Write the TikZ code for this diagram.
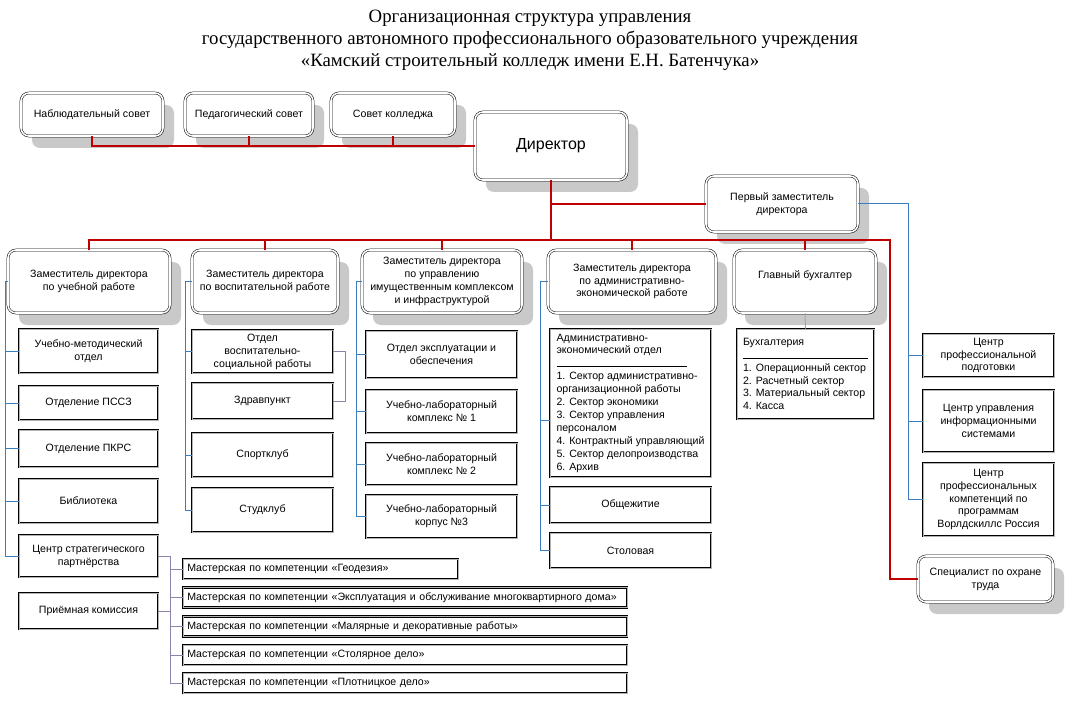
\documentclass[tikz,border=0pt]{standalone}
\usepackage{fontspec}
\setmainfont{Liberation Serif}
\newfontfamily\orgsans{Liberation Sans}
\usetikzlibrary{shadows}

\definecolor{linkred}{HTML}{C00000}
\definecolor{linkblue}{HTML}{3A7EC0}
\definecolor{linkviolet}{HTML}{8E82AC}
\definecolor{shadowgray}{HTML}{C9C9C9}

\def\boxfont{\orgsans\fontsize{10.6}{12.9}\selectfont}
\def\headfont{\orgsans\fontsize{16}{18}\selectfont}
\def\listrule#1{\rule{#1}{0.5pt}}

\tikzset{
  head/.style={draw, line width=0.5pt, double, double distance=1.6pt,
    rounded corners=8pt, fill=white, align=center, font=\boxfont,
    drop shadow={shadow xshift=11pt, shadow yshift=-12pt, fill=shadowgray, opacity=1}},
  unit/.style={draw=black, line width=0.6pt, double=gray!60, double distance=0.9pt,
    fill=white, align=center, font=\boxfont},
  redlink/.style={draw=linkred, line width=2pt},
  bluelink/.style={draw=linkblue, line width=1pt},
  violetlink/.style={draw=linkviolet, line width=1pt},
  graylink/.style={draw=gray!70, line width=1pt},
}

\begin{document}
\begin{tikzpicture}[x=1pt,y=-1pt]
\useasboundingbox (0,0) rectangle (1067,708);

\node[align=center, font=\fontsize{18.8}{22}\selectfont] (title) at (530,40)
  {Организационная структура управления\\
   государственного автономного профессионального образовательного учреждения\\
   «Камский строительный колледж имени Е.Н. Батенчука»};

\node[head, minimum width=142pt, minimum height=43pt] (nabl) at (92,114.5) {Наблюдательный совет};
\node[head, minimum width=128pt, minimum height=43pt] (ped) at (249,114.5) {Педагогический совет};
\node[head, minimum width=124pt, minimum height=43pt] (sovet) at (393,114.5) {Совет колледжа};
\node[head, minimum width=152pt, minimum height=68pt, font=\headfont] (director) at (551,146) {Директор};
\node[head, minimum width=152pt, minimum height=56pt] (first) at (782,204) {Первый заместитель\\директора};

\node[head, minimum width=162pt, minimum height=63pt] (dep1) at (89,281.5) {Заместитель директора\\по учебной работе};
\node[head, minimum width=146pt, minimum height=63pt] (dep2) at (265,281.5) {Заместитель директора\\по воспитательной работе};
\node[head, minimum width=160pt, minimum height=63pt] (dep3) at (442,281.5) {Заместитель директора\\по управлению\\имущественным комплексом\\и инфраструктурой};
\node[head, minimum width=168pt, minimum height=63pt] (dep4) at (632,281.5) {Заместитель директора\\по административно-\\экономической работе};
\node[head, minimum width=142pt, minimum height=63pt] (buh) at (805,281.5) {Главный бухгалтер\\\mbox{}};

\node[unit, minimum width=139pt, minimum height=44pt] (umo) at (88.5,351) {Учебно-методический\\отдел};
\node[unit, minimum width=139pt, minimum height=34pt] (pssz) at (88.5,403) {Отделение ПССЗ};
\node[unit, minimum width=139pt, minimum height=37pt] (pkrs) at (88.5,448.5) {Отделение ПКРС};
\node[unit, minimum width=139pt, minimum height=44pt] (bib) at (88.5,501) {Библиотека};
\node[unit, minimum width=139pt, minimum height=42pt] (csp) at (88.5,556) {Центр стратегического\\партнёрства};
\node[unit, minimum width=139pt, minimum height=36pt] (prk) at (88.5,611) {Приёмная комиссия};

\node[unit, minimum width=141pt, minimum height=43pt] (ovr) at (262.5,351.5) {Отдел\\воспитательно-\\социальной работы};
\node[unit, minimum width=141pt, minimum height=36pt] (zdr) at (262.5,401) {Здравпункт};
\node[unit, minimum width=141pt, minimum height=44pt] (sport) at (262.5,455) {Спортклуб};
\node[unit, minimum width=141pt, minimum height=44pt] (stud) at (262.5,510) {Студклуб};

\node[unit, minimum width=151pt, minimum height=47pt] (oeo) at (441.5,354.5) {Отдел эксплуатации и\\обеспечения};
\node[unit, minimum width=151pt, minimum height=43pt] (ulk1) at (441.5,411.5) {Учебно-лабораторный\\комплекс №~1};
\node[unit, minimum width=151pt, minimum height=42pt] (ulk2) at (441.5,464) {Учебно-лабораторный\\комплекс №~2};
\node[unit, minimum width=151pt, minimum height=43pt] (ulk3) at (441.5,516.5) {Учебно-лабораторный\\корпус №3};

\node[unit, minimum width=161pt, minimum height=148pt, align=left] (aeo) at (630.5,403)
  {Административно-\\экономический отдел\\\listrule{130pt}\\1. Сектор административно-\\организационной работы\\2. Сектор экономики\\3. Сектор управления\\персоналом\\4. Контрактный управляющий\\5. Сектор делопроизводства\\6. Архив};
\node[unit, minimum width=161pt, minimum height=36pt] (obsh) at (630.5,505) {Общежитие};
\node[unit, minimum width=161pt, minimum height=35pt] (stol) at (630.5,550.5) {Столовая};

\node[unit, minimum width=137pt, minimum height=90pt, align=left] (buhg) at (805.5,374)
  {Бухгалтерия\\\listrule{125pt}\\1. Операционный сектор\\2. Расчетный сектор\\3. Материальный сектор\\4. Касса};

\node[unit, minimum width=131pt, minimum height=43pt] (cpp) at (988.5,355.5) {Центр\\профессиональной\\подготовки};
\node[unit, minimum width=131pt, minimum height=62pt] (cui) at (988.5,421) {Центр управления\\информационными\\системами};
\node[unit, minimum width=131pt, minimum height=73pt] (cpk) at (988.5,499.5) {Центр\\профессиональных\\компетенций по\\программам\\Ворлдскиллс Россия};
\node[head, minimum width=135pt, minimum height=46pt] (ohr) at (985.5,579) {Специалист по охране\\труда};

\foreach \i/\y/\w/\txt in {1/569/275/Геодезия,
    2/597.5/444/Эксплуатация и обслуживание многоквартирного дома,
    3/626.5/444/Малярные и декоративные работы,
    4/655/444/Столярное дело,
    5/683/444/Плотницкое дело}
  \node[unit, anchor=west, minimum width=\w pt, minimum height=20pt, inner xsep=4pt,
        text width=\w-8, align=left] (m\i) at (183,\y) {Мастерская по компетенции «\txt»};

\draw[redlink] (nabl.south) |- (director.west);
\draw[redlink] (ped.south) -- (ped.south |- director.west);
\draw[redlink] (sovet.south) -- (sovet.south |- director.west);
\coordinate (busR) at (890,240);
\draw[redlink] (director.south) -- (director.south |- busR);
\draw[redlink] (director.south |- first.west) -- (first.west);
\draw[redlink] (dep1.north) |- (busR) |- (ohr.west);
\foreach \n in {dep2,dep3,dep4,buh}
  \draw[redlink] (\n.north) -- (\n.north |- busR);

\coordinate (v1) at (5,281.5);
\draw[bluelink] (dep1.west) -- (v1) |- (csp.west);
\foreach \n in {umo,pssz,pkrs,bib}
  \draw[bluelink] (v1 |- \n.west) -- (\n.west);

\coordinate (v2) at (185,281.5);
\draw[bluelink] (dep2.west) -- (v2) |- (stud.west);
\foreach \n in {ovr,sport}
  \draw[bluelink] (v2 |- \n.west) -- (\n.west);
\draw[violetlink] (ovr.east) -- ++(12,0) |- (zdr.east);

\coordinate (v3) at (356,281.5);
\draw[bluelink] (dep3.west) -- (v3) |- (ulk3.west);
\foreach \n in {oeo,ulk1,ulk2}
  \draw[bluelink] (v3 |- \n.west) -- (\n.west);

\coordinate (v4) at (540,281.5);
\coordinate (aeoin) at ([yshift=-17pt]aeo.west);
\draw[bluelink] (dep4.west) -- (v4) |- (stol.west);
\foreach \n in {aeoin,obsh}
  \draw[bluelink] (v4 |- \n) -- (\n);

\draw[graylink] (buh.south) -- (buhg.north);

\coordinate (v6) at (908,204);
\draw[bluelink] (first.east) -- (v6) |- (cpk.west);
\foreach \n in {cpp,cui}
  \draw[bluelink] (v6 |- \n.west) -- (\n.west);

\coordinate (v7) at (170,556);
\draw[violetlink] (csp.east) -- (v7) |- (m5.west);
\draw[violetlink] (prk.east) -- (v7 |- prk.east);
\foreach \n in {m1,m2,m3,m4}
  \draw[violetlink] (v7 |- \n.west) -- (\n.west);
\end{tikzpicture}
\end{document}
